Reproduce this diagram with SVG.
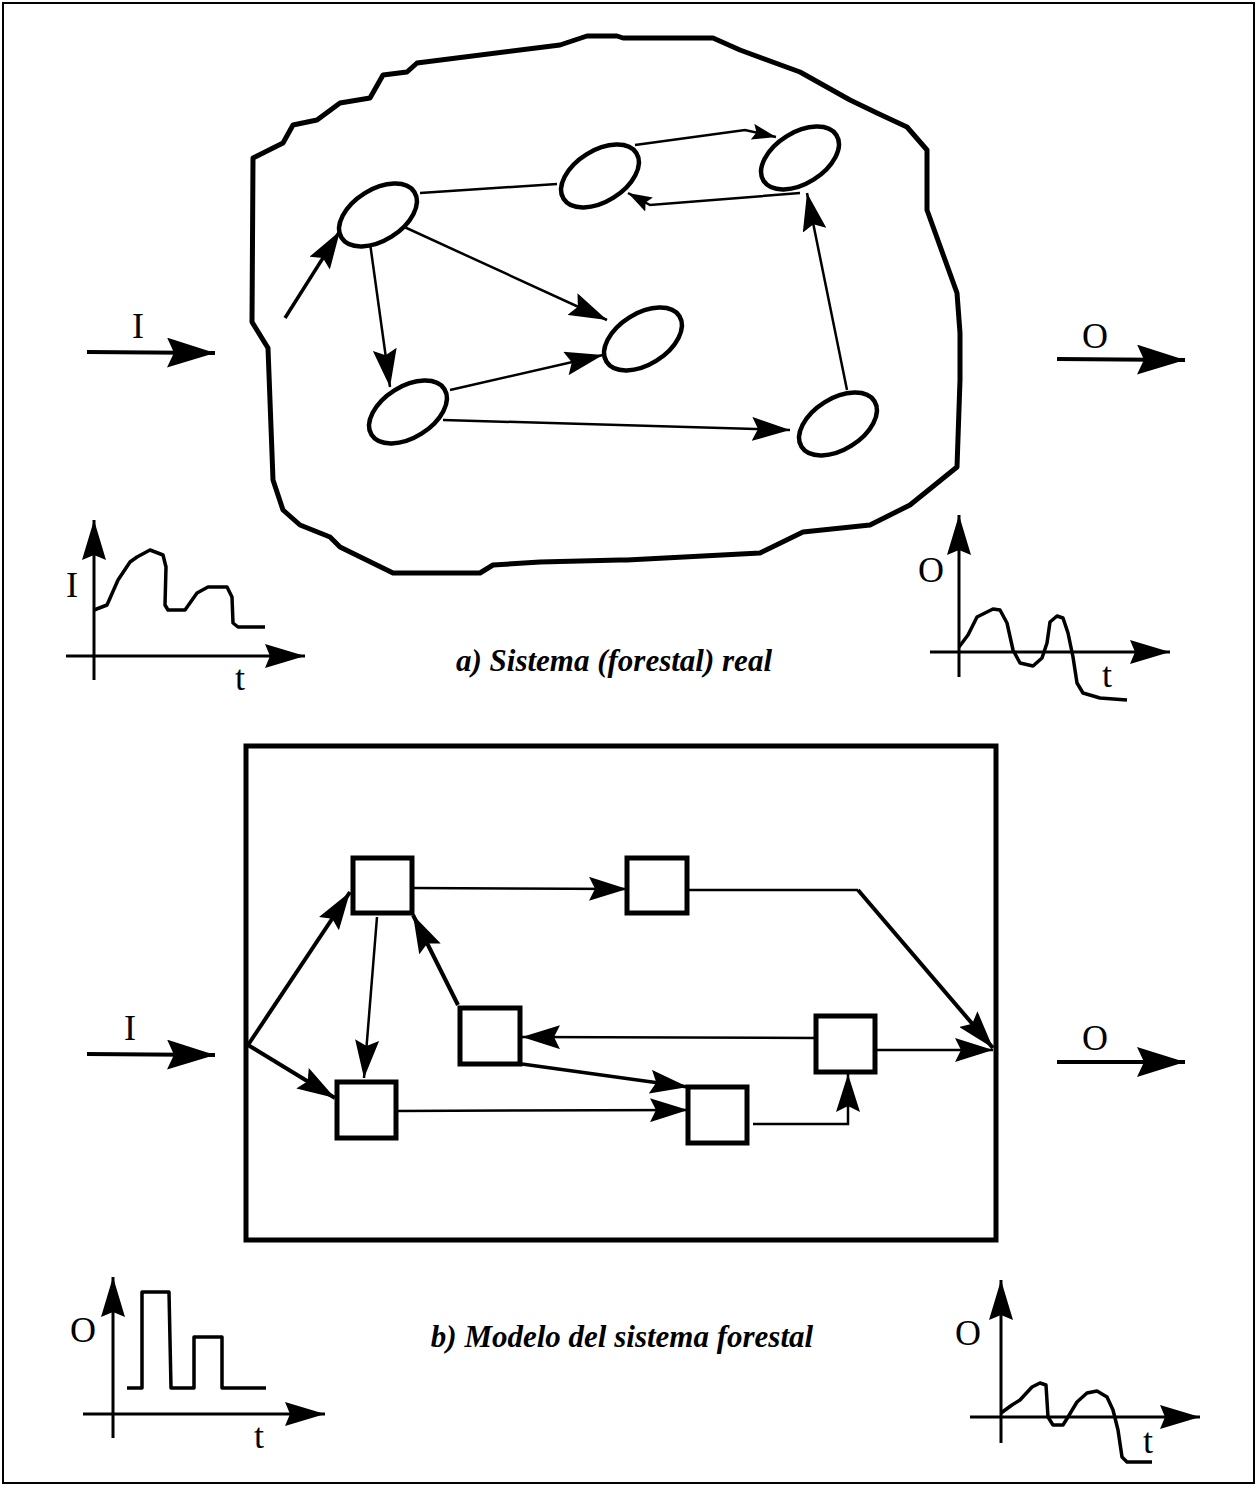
<svg xmlns="http://www.w3.org/2000/svg" width="1257" height="1486" viewBox="0 0 1257 1486">
<style>
.bg{fill:#fff}
.frame{fill:none;stroke:#000;stroke-width:2}
.blob{fill:none;stroke:#000;stroke-width:5;stroke-linejoin:round}
.node{fill:#fff;stroke:#000;stroke-width:4.5}
.sq{fill:#fff;stroke:#000;stroke-width:5}
.c{fill:none;stroke:#000;stroke-width:2.5}
.ct{fill:none;stroke:#000;stroke-width:3.5}
.big{fill:none;stroke:#000;stroke-width:4}
.ax{fill:none;stroke:#000;stroke-width:3}
.curve{fill:none;stroke:#000;stroke-width:3.5;stroke-linejoin:round}
.box{fill:none;stroke:#000;stroke-width:5}
.lbl{font-family:"Liberation Serif","Times New Roman",serif;font-size:36px;fill:#000;text-anchor:middle}
.cap{font-family:"Liberation Serif","Times New Roman",serif;font-size:31px;font-style:italic;font-weight:bold;fill:#000;text-anchor:middle}
</style>
<defs>
<marker id="ah" viewBox="0 0 38 24" refX="38" refY="12" markerWidth="38" markerHeight="24" markerUnits="userSpaceOnUse" orient="auto"><path d="M0,0 L38,12 L0,24 L6,12 z" fill="#000"/></marker>
<marker id="sm" viewBox="0 0 24 16" refX="24" refY="8" markerWidth="24" markerHeight="16" markerUnits="userSpaceOnUse" orient="auto"><path d="M0,0 L24,8 L0,16 L4,8 z" fill="#000"/></marker>
<marker id="bg" viewBox="0 0 48 30" refX="48" refY="15" markerWidth="48" markerHeight="30" markerUnits="userSpaceOnUse" orient="auto"><path d="M0,0 L48,15 L0,30 L7,15 z" fill="#000"/></marker>
<marker id="axm" viewBox="0 0 40 24" refX="40" refY="12" markerWidth="40" markerHeight="24" markerUnits="userSpaceOnUse" orient="auto"><path d="M0,0 L40,12 L0,24 L5,12 z" fill="#000"/></marker>
</defs>
<rect class="bg" x="0" y="0" width="1257" height="1486"/>
<rect class="frame" x="3" y="3" width="1251" height="1480"/>

<!-- Part a: real system -->
<path id="blob" class="blob" d="M253,158 L283,143 L293,125 L317,120 L340,103 L370,98 L383,75 L407,72 L417,63 L560,45 L587,36 L617,36 L623,38 L713,38 L740,50 L800,72 L850,100 L877,113 L907,127 L927,150 L927,210 L957,293 L960,333 L960,380 L957,467 L910,505 L870,525 L803,532 L760,553 L627,560 L620,560 L540,562 L493,565 L480,573 L393,573 L340,547 L330,537 L300,525 L283,510 L273,480 L268,348 L252,322 Z"/>

<g id="connectors">
<path class="ct" d="M285,318 L340,231" marker-end="url(#ah)"/>
<path class="c" d="M420,193 L557,184"/>
<path class="c" d="M400,225 L607,320" marker-end="url(#ah)"/>
<path class="c" d="M370,243 L390,387" marker-end="url(#ah)"/>
<path class="c" d="M450,390 L603,355" marker-end="url(#ah)"/>
<path class="c" d="M443,420 L790,430" marker-end="url(#ah)"/>
<path class="c" d="M847,390 L807,193" marker-end="url(#ah)"/>
<path class="c" d="M635,145 L745,130 L776,137" marker-end="url(#sm)"/>
<path class="c" d="M800,193 L650,205 L628,193" marker-end="url(#sm)"/>

<path class="big" d="M87,352 L215,353" marker-end="url(#bg)"/>
<path class="big" d="M1057,359 L1185,360" marker-end="url(#bg)"/>

<!-- Part b connectors -->
<path class="big" d="M248,1045 L350,892" marker-end="url(#ah)"/>
<path class="big" d="M248,1045 L335,1098" marker-end="url(#ah)"/>
<path class="c" d="M377,917 L364,1078" marker-end="url(#ah)"/>
<path class="big" d="M458,1005 L413,915" marker-end="url(#ah)"/>
<path class="c" d="M412,888 L627,889" marker-end="url(#ah)"/>
<path class="c" d="M816,1038 L522,1037" marker-end="url(#ah)"/>
<path class="ct" d="M522,1064 L688,1087" marker-end="url(#ah)"/>
<path class="c" d="M396,1111 L688,1110" marker-end="url(#ah)"/>
<path class="c" d="M753,1124 L848,1124 L848,1074" marker-end="url(#ah)"/>
<path class="c" d="M687,890 L858,890"/>
<path class="big" d="M858,890 L993,1048" marker-end="url(#ah)"/>
<path class="c" d="M875,1050 L993,1050" marker-end="url(#ah)"/>

<path class="big" d="M87,1054 L215,1055" marker-end="url(#bg)"/>
<path class="big" d="M1057,1062 L1185,1062" marker-end="url(#bg)"/>
</g>

<g id="e1"><ellipse class="node" cx="378" cy="215" rx="43" ry="25.5" transform="rotate(-32 378 215)"/></g>
<g id="e2"><ellipse class="node" cx="600" cy="176" rx="43" ry="25.5" transform="rotate(-32 600 176)"/></g>
<g id="e3"><ellipse class="node" cx="800" cy="158" rx="43" ry="25.5" transform="rotate(-32 800 158)"/></g>
<g id="e4"><ellipse class="node" cx="643" cy="339" rx="43" ry="25.5" transform="rotate(-32 643 339)"/></g>
<g id="e5"><ellipse class="node" cx="408" cy="412" rx="43" ry="25.5" transform="rotate(-32 408 412)"/></g>
<g id="e6"><ellipse class="node" cx="838" cy="424" rx="43" ry="25.5" transform="rotate(-32 838 424)"/></g>

<text class="lbl" x="138" y="338">I</text>
<text class="lbl" x="1095" y="348">O</text>

<!-- Plot a-left -->
<path class="ax" d="M94,680 L94,520" marker-end="url(#axm)"/>
<path class="ax" d="M66,656 L305,656" marker-end="url(#axm)"/>
<path class="curve" d="M94,610 L107,605 L118,580 L130,562 L137,557 L150,550 L163,555 L166,567 L165,605 L168,610 L185,610 L197,593 L208,587 L227,587 L232,597 L233,623 L238,627 L265,627"/>
<text class="lbl" x="72" y="597">I</text>
<text class="lbl" x="240" y="690">t</text>

<!-- Plot a-right -->
<path class="ax" d="M959,677 L959,515" marker-end="url(#axm)"/>
<path class="ax" d="M930,652 L1170,652" marker-end="url(#axm)"/>
<path class="curve" d="M959,647 L968,635 L977,617 L993,609 L1000,610 L1007,623 L1013,650 L1020,663 L1033,666 L1042,658 L1047,643 L1050,622 L1057,616 L1063,618 L1068,633 L1073,657 L1077,683 L1083,693 L1100,698 L1127,700"/>
<text class="lbl" x="931" y="582">O</text>
<text class="lbl" x="1107" y="687">t</text>

<text class="cap" x="614" y="671">a) Sistema (forestal) real</text>

<!-- Part b: model -->
<rect class="box" x="246" y="746" width="750" height="494"/>
<g id="s1"><rect class="sq" x="353" y="858" width="59" height="55"/></g>
<g id="s2"><rect class="sq" x="627" y="858" width="60" height="55"/></g>
<g id="s3"><rect class="sq" x="460" y="1008" width="60" height="56"/></g>
<g id="s4"><rect class="sq" x="337" y="1082" width="59" height="56"/></g>
<g id="s5"><rect class="sq" x="688" y="1087" width="59" height="56"/></g>
<g id="s6"><rect class="sq" x="816" y="1016" width="59" height="56"/></g>

<text class="lbl" x="130" y="1040">I</text>
<text class="lbl" x="1095" y="1050">O</text>

<!-- Plot b-left -->
<path class="ax" d="M113,1438 L113,1277" marker-end="url(#axm)"/>
<path class="ax" d="M83,1414 L325,1414" marker-end="url(#axm)"/>
<path class="curve" d="M127,1388 L142,1388 L142,1292 L169,1292 L171,1388 L194,1388 L194,1337 L222,1337 L222,1388 L266,1388"/>
<text class="lbl" x="83" y="1342">O</text>
<text class="lbl" x="259" y="1448">t</text>

<!-- Plot b-right -->
<path class="ax" d="M1001,1443 L1001,1280" marker-end="url(#axm)"/>
<path class="ax" d="M970,1417 L1200,1417" marker-end="url(#axm)"/>
<path class="curve" d="M1001,1413 L1012,1405 L1020,1400 L1032,1387 L1040,1383 L1046,1385 L1048,1417 L1053,1425 L1063,1425 L1068,1417 L1077,1402 L1087,1393 L1097,1391 L1107,1397 L1113,1410 L1118,1430 L1122,1457 L1127,1462 L1152,1462"/>
<text class="lbl" x="968" y="1345">O</text>
<text class="lbl" x="1148" y="1453">t</text>

<text class="cap" x="622" y="1347">b) Modelo del sistema forestal</text>
</svg>
